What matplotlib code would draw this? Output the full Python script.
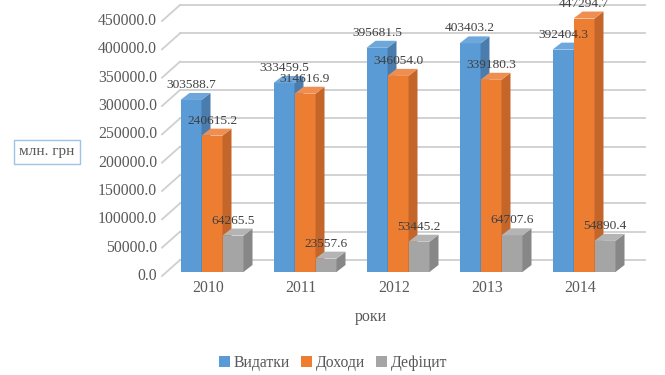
import matplotlib
matplotlib.use("Agg")
import matplotlib.pyplot as plt
from matplotlib.patches import Polygon, Patch

plt.rcParams['font.family'] = ['Liberation Serif', 'DejaVu Serif']

years = ["2010", "2011", "2012", "2013", "2014"]
series_names = ["Видатки", "Доходи", "Дефіцит"]
vydatky = [303588.7, 333459.5, 395681.5, 403403.2, 392404.3]
dokhody = [240615.2, 314616.9, 346054.0, 339180.3, 447294.7]
defitsyt = [64265.5, 23557.6, 53445.2, 64707.6, 54890.4]
yticks = [0, 50000, 100000, 150000, 200000, 250000, 300000, 350000, 400000, 450000]

front_cols = ['#5B9BD5', '#ED7D31', '#A5A5A5']
side_cols = ['#4A7DAE', '#C4662A', '#878787']
top_cols = ['#6EA7DB', '#F08E52', '#B4B4B4']

W, H = 665, 375
fig = plt.figure(figsize=(W / 100, H / 100), dpi=100)
fig.patch.set_facecolor('white')


def px(x0, y0, w, h):
    return [x0 / W, 1 - (y0 + h) / H, w / W, h / H]


ax_w, ax_h = 465, 255
ax = fig.add_axes(px(165.5, 17, ax_w, ax_h))
ax.set_xlim(-0.5, 4.5)
ax.set_ylim(0, 450000)
ax.axis('off')

ux = 5.0 / ax_w
uy = 450000.0 / ax_h

grid_col = '#CFCFCF'
tick_col = '#595959'
# back wall gridlines + diagonals + tick labels
for v in yticks:
    ax.plot([-0.5 + 14.5 * ux, 4.5 + 14.5 * ux], [v + 12 * uy] * 2,
            color=grid_col, lw=1.3, clip_on=False, zorder=1)
    ax.plot([-0.5 - 3.5 * ux, -0.5 + 14.5 * ux], [v - 4 * uy, v + 12 * uy],
            color=grid_col, lw=1.3, clip_on=False, zorder=1)
    ax.text(-0.5 - 8.5 * ux, v - 4 * uy, f"{v:.1f}", ha='right', va='center',
            fontsize=11.3, color=tick_col)

bw = 21 * ux
dx = 9 * ux
dy = 7 * uy
all_series = [vydatky, dokhody, defitsyt]
for si, vals in enumerate(all_series):
    for i, v in enumerate(vals):
        xc = i + (si - 1) * bw
        x0, x1 = xc - bw / 2, xc + bw / 2
        z = 3 + si * 3
        ax.bar(xc, v, width=bw, color=front_cols[si], zorder=z, linewidth=0)
        side = Polygon([[x1, 0], [x1 + dx, dy], [x1 + dx, v + dy], [x1, v]],
                       closed=True, facecolor=side_cols[si], edgecolor='none',
                       zorder=z + 1, clip_on=False)
        top = Polygon([[x0, v], [x0 + dx, v + dy], [x1 + dx, v + dy], [x1, v]],
                      closed=True, facecolor=top_cols[si], edgecolor='none',
                      zorder=z + 1, clip_on=False)
        ax.add_patch(side)
        ax.add_patch(top)

for si, vals in enumerate(all_series):
    for i, v in enumerate(vals):
        xc = i + (si - 1) * bw
        ax.text(xc, v + 15 * uy, f"{v:.1f}", ha='center', va='center',
                fontsize=9.6, color='#404040', zorder=20)

for i, y in enumerate(years):
    ax.text(i - 4 * ux, -16 * uy, y, ha='center', va='center',
            fontsize=11.3, color=tick_col)

fig.text(371 / W, 1 - 317 / H, 'роки', ha='center', va='center',
         fontsize=11.5, color=tick_col)
fig.text(47 / W, 1 - 152 / H, 'млн. грн', ha='center', va='center',
         fontsize=11, color=tick_col,
         bbox=dict(boxstyle='square,pad=0.35', fc='white', ec='#9DC3E6', lw=1))

handles = [Patch(facecolor=c, edgecolor='none') for c in front_cols]
fig.legend(handles, series_names, loc='center', bbox_to_anchor=(333 / W, 1 - 363 / H),
           ncol=3, frameon=False, handlelength=0.7, handleheight=0.7,
           handletextpad=0.25, columnspacing=0.7,
           prop={'size': 11.3}, labelcolor=tick_col)

fig.savefig('out.png', dpi=100, facecolor='white')
